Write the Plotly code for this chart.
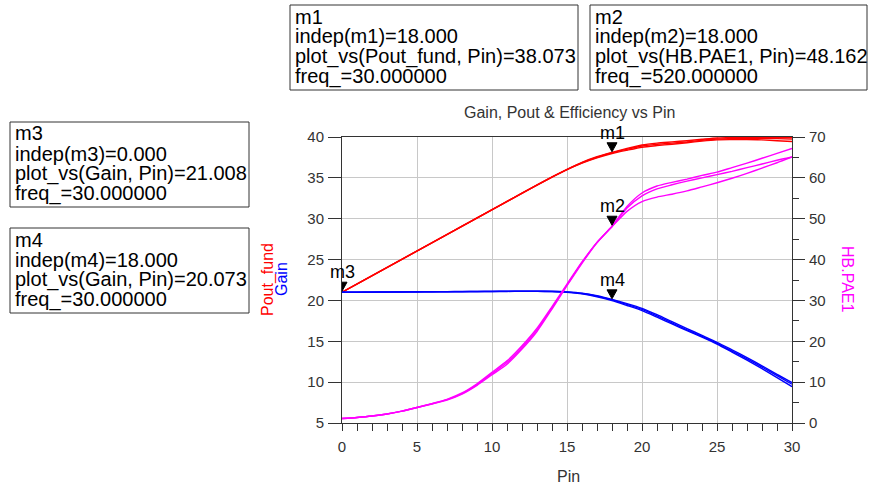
import plotly.graph_objects as go

# ---- data -------------------------------------------------------------
pin = list(range(31))

gain_a = [21.008, 21.01, 21.02, 21.03, 21.04, 21.05, 21.06, 21.07, 21.08, 21.09,
          21.10, 21.11, 21.12, 21.12, 21.10, 21.02, 20.85, 20.52, 20.073, 19.50,
          18.90, 18.10, 17.25, 16.40, 15.60, 14.75, 13.80, 12.85, 11.85, 10.80, 9.75]
gain_b = [21.00, 21.00, 21.01, 21.02, 21.03, 21.04, 21.05, 21.06, 21.07, 21.08,
          21.09, 21.10, 21.11, 21.11, 21.08, 21.00, 20.80, 20.45, 19.98, 19.38,
          18.75, 17.95, 17.12, 16.30, 15.50, 14.65, 13.68, 12.70, 11.65, 10.55, 9.45]
gain_c = [21.01, 21.02, 21.03, 21.04, 21.05, 21.06, 21.07, 21.08, 21.09, 21.10,
          21.11, 21.12, 21.13, 21.13, 21.12, 21.05, 20.90, 20.58, 20.12, 19.60,
          19.02, 18.25, 17.40, 16.55, 15.72, 14.88, 13.95, 13.00, 12.00, 10.95, 9.95]

pout_a = [21.01, 22.01, 23.02, 24.03, 25.04, 26.05, 27.06, 28.07, 29.08, 30.09,
          31.10, 32.11, 33.12, 34.12, 35.10, 36.02, 36.85, 37.52, 38.073, 38.50,
          38.90, 39.10, 39.25, 39.40, 39.60, 39.75, 39.80, 39.85, 39.85, 39.80, 39.75]
pout_b = [21.00, 22.00, 23.01, 24.02, 25.03, 26.04, 27.05, 28.06, 29.07, 30.08,
          31.09, 32.10, 33.11, 34.11, 35.08, 36.00, 36.80, 37.45, 37.98, 38.38,
          38.75, 38.95, 39.12, 39.30, 39.50, 39.65, 39.68, 39.70, 39.65, 39.55, 39.45]
pout_c = [21.01, 22.02, 23.03, 24.04, 25.05, 26.06, 27.07, 28.08, 29.09, 30.10,
          31.11, 32.12, 33.13, 34.13, 35.12, 36.05, 36.90, 37.58, 38.12, 38.60,
          39.02, 39.25, 39.40, 39.55, 39.72, 39.88, 39.93, 39.96, 39.96, 39.95, 39.95]

pae_a = [1.10, 1.35, 1.70, 2.20, 2.90, 3.80, 4.70, 5.70, 7.20, 9.40,
         12.10, 14.80, 18.50, 22.80, 28.20, 33.80, 39.30, 44.20, 48.162, 53.00,
         56.30, 58.00, 58.90, 59.70, 60.60, 61.40, 62.50, 63.60, 64.80, 66.00, 67.20]
pae_b = [1.10, 1.35, 1.70, 2.20, 2.90, 3.80, 4.75, 5.80, 7.35, 9.60,
         12.40, 15.20, 18.90, 23.20, 28.50, 34.00, 39.40, 44.20, 48.10, 52.60,
         55.60, 57.30, 58.30, 59.20, 60.00, 60.80, 61.60, 62.50, 63.40, 64.30, 65.10]
pae_c = [1.10, 1.35, 1.70, 2.20, 2.90, 3.80, 4.65, 5.60, 7.05, 9.20,
         11.80, 14.40, 18.10, 22.40, 27.90, 33.60, 39.10, 44.10, 48.05, 51.80,
         54.20, 55.30, 56.00, 56.80, 57.80, 58.80, 59.90, 61.10, 62.40, 63.70, 65.10]

x_ticks = [0, 5, 10, 15, 20, 25, 30]
left_ticks = [5, 10, 15, 20, 25, 30, 35, 40]
right_ticks = [0, 10, 20, 30, 40, 50, 60, 70]

# marker readouts: name, independent value, expression, value, frequency, axis
marker_names = ["m1", "m2", "m3", "m4"]
marker_indep = [18.0, 18.0, 0.0, 18.0]
marker_expr = ["Pout_fund", "HB.PAE1", "Gain", "Gain"]
marker_value = [38.073, 48.162, 21.008, 20.073]
marker_freq = [30.0, 520.0, 30.0, 30.0]
marker_axis = ["y", "y2", "y", "y"]

# ---- layout geometry (pixels) -------------------------------------------
W, H = 870, 486
PL, PR, PT, PB = 342, 792, 137, 423
FONT = "Arial, Liberation Sans, sans-serif"
TICK_COLOR = "#333333"
GRID = "#c8c8c8"


def px(x):
    return (x - PL) / (PR - PL)


def py(y):
    return (PB - y) / (PB - PT)


def label(x, y, text, size, color, angle=0, xanchor="center"):
    return dict(x=px(x), y=py(y), xref="paper", yref="paper", text=text,
                xanchor=xanchor, yanchor="middle", textangle=angle, showarrow=False,
                font=dict(family=FONT, size=size, color=color))


fig = go.Figure()

LW = 1.4
for ys, col in ((pout_b, "#ff0000"), (pout_c, "#ff0000"), (pout_a, "#ff0000"),
                (gain_b, "#0000ff"), (gain_c, "#0000ff"), (gain_a, "#0000ff")):
    fig.add_trace(go.Scatter(x=pin, y=ys, mode="lines", yaxis="y",
                             line=dict(color=col, width=LW, shape="spline", smoothing=0.6),
                             hoverinfo="skip"))
for ys in (pae_a, pae_b, pae_c):
    fig.add_trace(go.Scatter(x=pin, y=ys, mode="lines", yaxis="y2",
                             line=dict(color="#ff00ff", width=LW, shape="spline", smoothing=0.6),
                             hoverinfo="skip"))

shapes = []
annotations = []

# marker triangles and labels on the curves
for name, xi, val, ax in zip(marker_names, marker_indep, marker_value, marker_axis):
    shapes.append(dict(type="path", xref="x", yref=ax,
                       xsizemode="pixel", ysizemode="pixel",
                       xanchor=xi, yanchor=val,
                       path="M -5 10 L 5 10 L 0 1 Z",
                       fillcolor="#000000", line=dict(color="#000000", width=1),
                       layer="above"))
    annotations.append(dict(x=xi, y=val, xref="x", yref=ax, text=name,
                            xanchor="center", yanchor="middle",
                            showarrow=False, yshift=20,
                            font=dict(family=FONT, size=18, color="#000000")))

# marker readout boxes
box_rects = [(290, 5, 578, 90), (590, 5, 867, 90), (10, 122, 249, 207), (10, 228, 249, 313)]
for (x0, y0, x1, y1), name, xi, expr, val, fq in zip(
        box_rects, marker_names, marker_indep, marker_expr, marker_value, marker_freq):
    shapes.append(dict(type="rect", xref="paper", yref="paper",
                       x0=px(x0), x1=px(x1), y0=py(y1), y1=py(y0),
                       line=dict(color="#333333", width=1), fillcolor="rgba(0,0,0,0)"))
    lines = [name,
             f"indep({name})={xi:.3f}",
             f"plot_vs({expr}, Pin)={val:.3f}",
             f"freq_={fq:.6f}"]
    for k, t in enumerate(lines):
        annotations.append(label(x0 + 3, y0 + 11.5 + 20 * k, t, 20, "#000000", xanchor="left"))

# chart title and axis titles
annotations.append(label(569, 113, "Gain, Pout &amp; Efficiency vs Pin", 16, "#333333"))
annotations.append(label(568, 476, "Pin", 16, "#333333"))
annotations.append(label(268, 280, "Pout_fund", 16, "#ff0000", angle=-90))
annotations.append(label(281, 279, "Gain", 16, "#0000ff", angle=-90))
annotations.append(label(848, 279, "HB.PAE1", 16, "#ff00ff", angle=90))

tickfont = dict(family=FONT, size=15, color="#333333")

fig.update_layout(
    width=W, height=H,
    margin=dict(l=PL, r=W - PR, t=PT, b=H - PB, pad=0),
    paper_bgcolor="white", plot_bgcolor="white",
    showlegend=False,
    shapes=shapes, annotations=annotations,
    xaxis=dict(range=[0, 30], tickvals=x_ticks, ticks="outside", ticklen=7, tickwidth=1,
               tickcolor=TICK_COLOR, showline=True, linecolor=TICK_COLOR, linewidth=1, mirror=True,
               showgrid=True, gridcolor=GRID, gridwidth=1, zeroline=False, tickfont=tickfont,
               ticklabelstandoff=3,
               minor=dict(dtick=1, tick0=0, ticks="outside", ticklen=7, tickcolor=TICK_COLOR, showgrid=False)),
    yaxis=dict(range=[5, 40], tickvals=left_ticks, ticks="outside", ticklen=13, tickwidth=1,
               tickcolor=TICK_COLOR, showline=True, linecolor=TICK_COLOR, linewidth=1,
               showgrid=True, gridcolor=GRID, gridwidth=1, zeroline=False, tickfont=tickfont,
               ticklabelstandoff=1),
    yaxis2=dict(range=[0, 70], tickvals=right_ticks, overlaying="y", side="right",
                ticks="outside", ticklen=12, tickwidth=1, tickcolor=TICK_COLOR,
                showline=True, linecolor=TICK_COLOR, linewidth=1,
                showgrid=False, zeroline=False, tickfont=tickfont, ticklabelstandoff=1,
                minor=dict(dtick=5, tick0=0, ticks="outside", ticklen=6, tickcolor=TICK_COLOR, showgrid=False)),
)

fig.write_html("out.html")
